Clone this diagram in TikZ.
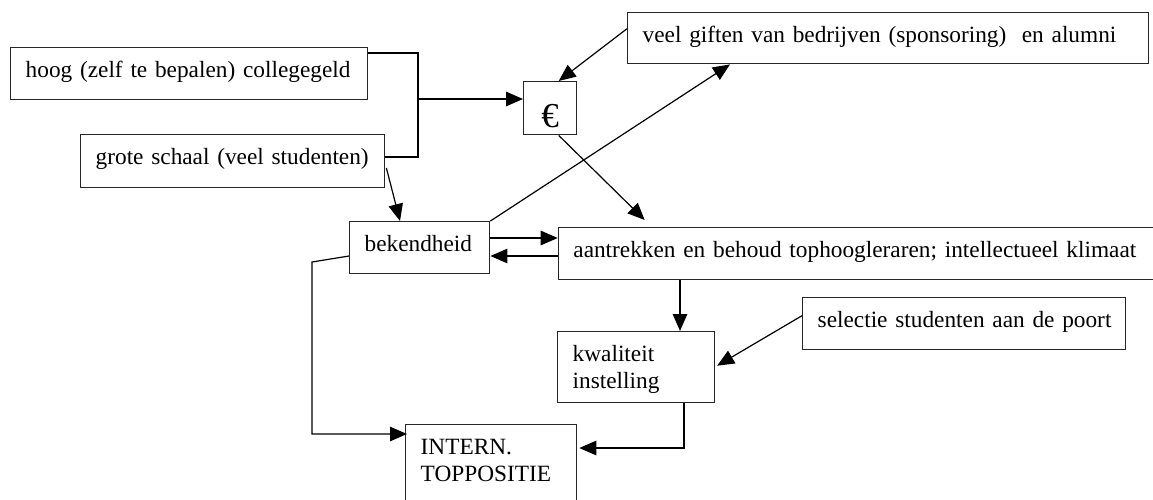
\documentclass[tikz,border=0pt]{standalone}
\usepackage{fontspec}
\setmainfont{Liberation Serif}
\usetikzlibrary{arrows.meta,calc}
\newcommand{\pad}{\hspace*{15pt}}
\begin{document}
\begin{tikzpicture}[x=1pt,y=-1pt,
  box/.style={draw=black!85, line width=1.4pt, anchor=north west, inner sep=0pt,
    align=left, text height=29.5pt, font=\fontsize{23.3}{27.7}\selectfont},
  eurobox/.style={draw=black!85, line width=1.4pt, anchor=north west, inner sep=0pt,
    minimum width=53pt, text height=46pt, text depth=7pt, font=\fontsize{35}{35}\selectfont},
  conn/.style={line width=1.2pt},
  arr/.style={conn, -{Triangle[length=17pt,width=14.5pt]}}]
\clip (0,0) rectangle (1153,499);
\fill[white] (0,0) rectangle (1153,499);

\node[box, text width=357pt, text depth=22.5pt] (A) at (10,47) {\pad hoog (zelf te bepalen) collegegeld};
\node[box, text width=304pt, text depth=23.5pt] (B) at (80,134) {\pad grote schaal (veel studenten)};
\node[eurobox] (E) at (523,81) {€};
\node[box, text width=521pt, text depth=21.5pt] (G) at (627,12) {\pad veel giften van bedrijven (sponsoring)\ \ en alumni};
\node[box, text width=140pt, text depth=22.5pt] (K) at (349,221) {\pad bekendheid};
\node[box, text width=610pt, text depth=22.5pt] (T) at (557.7,227) {\pad aantrekken en behoud tophoogleraren; intellectueel klimaat};
\node[box, text width=323pt, text depth=22.5pt] (S) at (802,297) {\pad selectie studenten aan de poort};
\node[box, text width=157pt, text depth=41.5pt] (Q) at (557,331) {\pad kwaliteit\\\pad instelling};
\node[box, text width=171pt, text depth=70pt] (I) at (405,424) {\pad INTERN.\\\pad TOPPOSITIE};

\coordinate (J) at (418,99);
\draw[conn] ($(A.north east)+(0,6)$) -| (J) |- ($(B.north east)+(0,23)$);
\draw[arr] (J) -- (J -| E.west);
\draw[arr] ($(G.west)+(0,-9.5)$) -- ($(E.north)+(8.5,0)$);
\draw[arr] (K.north east) -- ($(G.south west)+(103,0)$);
\draw[arr] ($(E.south)+(8.5,0)$) -- ($(T.north west)+(87,-7)$);
\draw[arr] ($(B.north east)+(1,34)$) -- ($(K.north west)+(51,0)$);
\draw[arr] ($(K.north east)+(0,17)$) -- ($(T.north west)+(0,11)$);
\draw[arr] ($(T.north west)+(0,29)$) -- ($(K.north east)+(0,35)$);
\coordinate (t1) at ($(T.south west)+(122.3,0)$);
\draw[arr] (t1) -- (t1 |- Q.north);
\draw[arr] ($(S.west)+(0,-8)$) -- ($(Q.east)+(1.7,-1.5)$);
\coordinate (q1) at ($(Q.south west)+(127,0)$);
\draw[arr] (q1) |- ($(I.north west)+(174.3,24)$);
\coordinate (kb) at (312,262);
\draw[arr] ($(K.north west)+(0,35)$) -- (kb) |- ($(I.north west)+(2,10)$);
\end{tikzpicture}
\end{document}
